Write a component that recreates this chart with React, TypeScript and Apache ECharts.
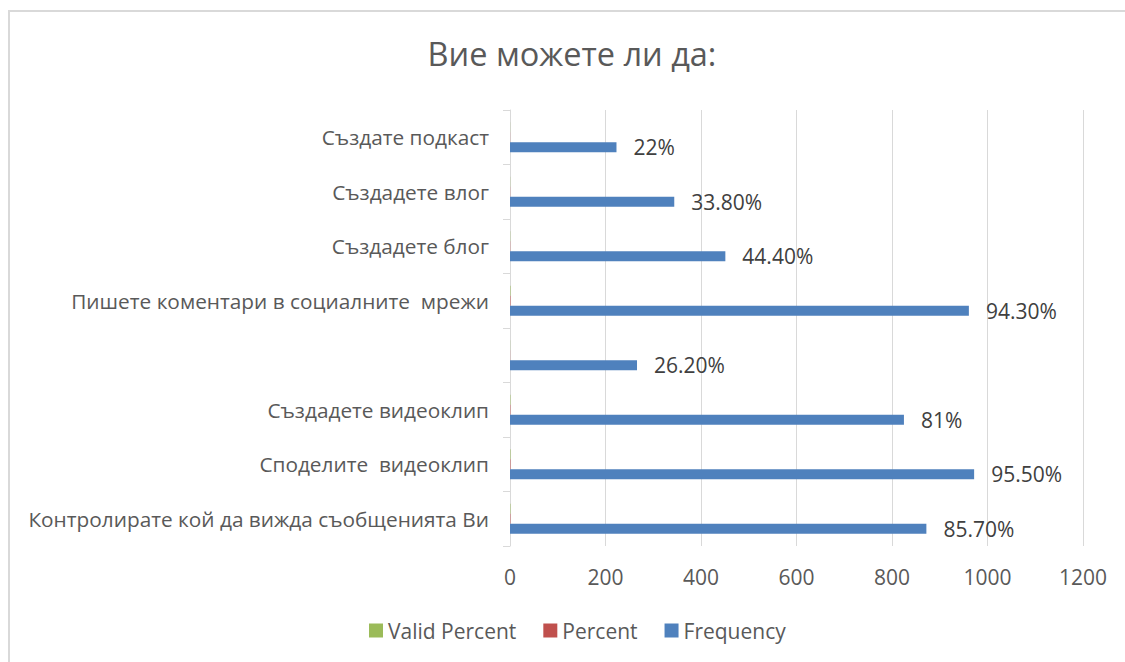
import React, { useEffect, useRef } from "react";
import * as echarts from "echarts";

// Categories listed top to bottom
const categories: string[] = [
  "Създате подкаст",
  "Създадете влог",
  "Създадете блог",
  "Пишете коментари в социалните  мрежи",
  "",
  "Създадете видеоклип",
  "Споделите  видеоклип",
  "Контролирате кой да вижда съобщенията Ви",
];

const frequency: number[] = [223, 344, 451, 961, 266, 825, 972, 872];
const percent: number[] = [0.22, 0.338, 0.444, 0.943, 0.262, 0.81, 0.955, 0.857];
const validPercent: number[] = [0.22, 0.338, 0.444, 0.943, 0.262, 0.81, 0.955, 0.857];
const percentLabels: string[] = ["22%", "33.80%", "44.40%", "94.30%", "26.20%", "81%", "95.50%", "85.70%"];

const xTicks = { min: 0, max: 1200, interval: 200 };

const FONT = "'Open Sans', 'Noto Sans', sans-serif";

export default function App() {
  const ref = useRef<HTMLDivElement>(null);
  useEffect(() => {
    if (!ref.current) return;
    const chart = echarts.init(ref.current, undefined, { renderer: "svg" });
    chart.setOption({
      animation: false,
      backgroundColor: "#ffffff",
      textStyle: { fontFamily: FONT },
      title: {
        text: "Вие можете ли да:",
        left: 567,
        textAlign: "center",
        top: 32,
        textStyle: { fontFamily: FONT, fontSize: 32.5, fontWeight: "normal", color: "#595959" },
      },
      graphic: [
        {
          type: "rect",
          silent: true,
          shape: { x: 9, y: 11, width: 1300, height: 800 },
          style: { fill: "none", stroke: "#d9d9d9", lineWidth: 2 },
        },
      ],
      legend: {
        left: 364,
        top: 615,
        itemWidth: 14,
        itemHeight: 14,
        itemGap: 27,
        icon: "rect",
        textStyle: { fontFamily: FONT, fontSize: 21, color: "#595959" },
        data: ["Valid Percent", "Percent", "Frequency"],
      },
      grid: { left: 510, right: 42, top: 110, bottom: 116, containLabel: false },
      xAxis: {
        type: "value",
        min: xTicks.min,
        max: xTicks.max,
        interval: xTicks.interval,
        axisLine: { show: false },
        axisTick: { show: false },
        splitLine: { show: true, lineStyle: { color: "#d9d9d9", width: 1 } },
        axisLabel: {
          fontFamily: FONT,
          fontSize: 21,
          color: "#595959",
          margin: 20,
          formatter: (v: number) => String(v),
        },
      },
      yAxis: {
        type: "category",
        inverse: true,
        data: categories,
        axisLine: { show: true, lineStyle: { color: "#d9d9d9", width: 1 } },
        axisTick: { show: true, length: 7, lineStyle: { color: "#d9d9d9" } },
        axisLabel: { fontFamily: FONT, fontSize: 20.8, color: "#595959", margin: 21 },
      },
      series: [
        {
          name: "Valid Percent",
          type: "bar",
          data: validPercent,
          barWidth: 10,
          barGap: "0%",
          itemStyle: { color: "#9bbb59" },
        },
        {
          name: "Percent",
          type: "bar",
          data: percent,
          barWidth: 10,
          barGap: "0%",
          itemStyle: { color: "#c0504d" },
        },
        {
          name: "Frequency",
          type: "bar",
          data: frequency,
          barWidth: 10,
          barGap: "0%",
          itemStyle: { color: "#4f81bd" },
          label: {
            show: true,
            position: "right",
            distance: 17,
            fontFamily: FONT,
            fontSize: 21,
            color: "#404040",
            formatter: (p: any) => percentLabels[p.dataIndex],
          },
        },
      ],
    });
    return () => chart.dispose();
  }, []);
  return (
    <div
      ref={ref}
      style={{ position: "fixed", left: 0, top: 0, width: 1125, height: 662, background: "#fff" }}
    />
  );
}
